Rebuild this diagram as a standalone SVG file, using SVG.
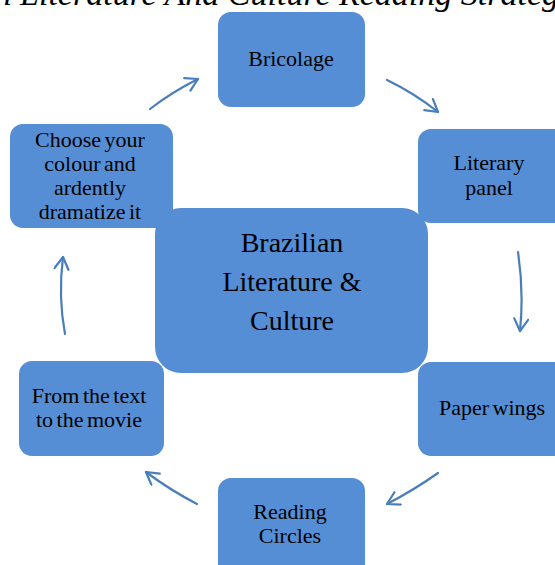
<svg xmlns="http://www.w3.org/2000/svg" width="555" height="565" viewBox="0 0 555 565">
<style>
.box{fill:#558ED5;}
.arr{fill:none;stroke:#4A7EBB;stroke-width:2.2;stroke-linecap:round;marker-end:url(#ah);}
</style>
<defs>
<marker id="ah" markerUnits="userSpaceOnUse" markerWidth="20" markerHeight="20" refX="14" refY="8" orient="auto">
<path d="M2,1 L14,8 L2,15" fill="none" stroke="#4A7EBB" stroke-width="2.2" stroke-linecap="round" stroke-linejoin="round"/>
</marker>
</defs>
<rect width="555" height="565" fill="#fff"/>
<text x="-115" y="5" font-family="Liberation Serif" font-style="italic" font-size="34">Brazilian Literature And Culture Reading Strategies</text>
<g id="connectors">
<path class="arr" d="M150,109 Q172,92 198,79"/>
<path class="arr" d="M387,80 Q414,93 438,112"/>
<path class="arr" d="M518,252 Q524,292 520,331"/>
<path class="arr" d="M438,473 Q414,490 387,504"/>
<path class="arr" d="M197,504 Q170,490 146,472"/>
<path class="arr" d="M65,334 Q58,296 63,257"/>
</g>
<g font-family="Liberation Serif" font-size="22" text-anchor="middle" fill="#000" word-spacing="-2">
<g id="bricolage">
<rect class="box" x="218" y="12" width="147" height="95" rx="13"/>
<text x="291" y="66">Bricolage</text>
</g>
<g id="literary-panel">
<rect class="box" x="418" y="129" width="150" height="94" rx="13"/>
<text x="489" y="170">Literary</text>
<text x="489" y="195">panel</text>
</g>
<g id="choose-colour">
<rect class="box" x="10" y="124" width="163" height="104" rx="13"/>
<text x="90" y="147">Choose your</text>
<text x="90" y="171">colour and</text>
<text x="90" y="195">ardently</text>
<text x="90" y="219">dramatize it</text>
</g>
<g id="center">
<rect class="box" x="155" y="208" width="273" height="165" rx="26"/>
<text x="292" y="252" font-size="28" word-spacing="0">Brazilian</text>
<text x="292" y="291" font-size="28" word-spacing="0">Literature &amp;</text>
<text x="292" y="330" font-size="28" word-spacing="0">Culture</text>
</g>
<g id="paper-wings">
<rect class="box" x="418" y="362" width="150" height="94" rx="13"/>
<text x="492" y="415">Paper wings</text>
</g>
<g id="from-text">
<rect class="box" x="19" y="361" width="145" height="95" rx="13"/>
<text x="89" y="403">From the text</text>
<text x="89" y="427">to the movie</text>
</g>
<g id="reading-circles">
<rect class="box" x="218" y="478" width="147" height="100" rx="13"/>
<text x="290" y="519">Reading</text>
<text x="290" y="543">Circles</text>
</g>
</g>
</svg>
